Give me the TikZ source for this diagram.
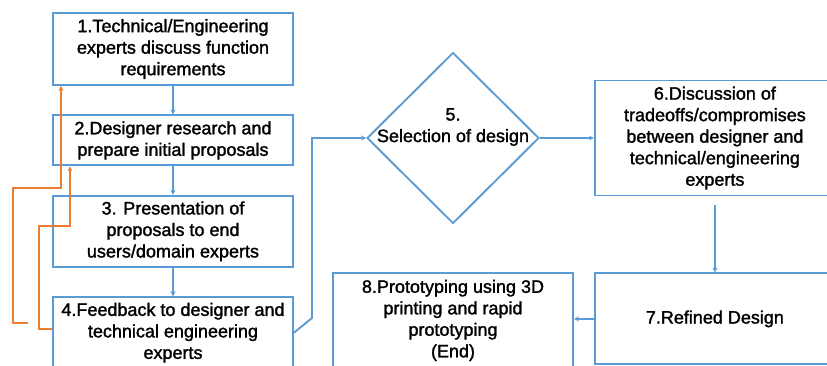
\documentclass[tikz,border=0pt]{standalone}
\usepackage{fontspec}
\setmainfont{Liberation Sans}[FakeBold=1.6]
\usetikzlibrary{positioning,shapes.geometric,arrows.meta}
\definecolor{stepblue}{RGB}{91,155,213}
\definecolor{loopred}{RGB}{237,125,49}

\begin{document}
\begin{tikzpicture}[x=1pt, y=-1pt, node distance=28.5pt,
  font=\fontsize{18}{21.5}\selectfont,
  box/.style={draw=stepblue, line width=1.9pt, minimum width=240pt, align=center, inner sep=0pt},
  decision/.style={diamond, draw=stepblue, line width=1.9pt, minimum width=172pt, minimum height=171pt, inner sep=0pt},
  flow/.style={draw=stepblue, line width=1.9pt, -{Stealth[length=5pt,width=5pt]}},
  back/.style={draw=loopred, line width=1.9pt, -{Stealth[length=5pt,width=5pt]}}]
  \useasboundingbox (0,0) rectangle (827,365);
  % left column
  \node[box, minimum height=72pt] (s1) at (173,49) {1.Technical/Engineering\\experts discuss function\\requirements};
  \node[box, minimum height=50pt] (s2) [below=of s1] {2.Designer research and\\prepare initial proposals};
  \node[box, minimum height=71pt] (s3) [below=of s2] {3. Presentation of\\proposals to end\\users/domain experts};
  \node[box, minimum height=71pt] (s4) [below=of s3] {4.Feedback to designer and\\technical engineering\\experts};
  % decision
  \node[decision] (s5) at (453,138) {};
  \node[align=center] (s5txt) at ([yshift=11pt]s5.center) {5.\\Selection of design};
  % right part
  \node[box, minimum height=115pt] (s6) [right=54pt of s5] {6.Discussion of\\tradeoffs/compromises\\between designer and\\technical/engineering\\experts};
  \node[box, minimum height=91pt] (s7) [below=76pt of s6] {7.Refined Design};
  \node[box, minimum height=94pt, anchor=north east] (s8) at ([xshift=-20pt]s7.north west) {8.Prototyping using 3D\\printing and rapid\\prototyping\\(End)};
  \coordinate (fbA) at (28,323);

  \path[flow] (s1) edge (s2) (s2) edge (s3) (s3) edge (s4);
  \draw[flow] (s4.east) -- (312,318) |- (s5.west);
  \draw[flow] (s5.east) -- (s6.west |- s5.east);
  \draw[flow] ([yshift=-9pt]s6.south) -- (s7.north);
  \draw[flow] (s7.west) -- (s8.east |- s7.west);
  % feedback loops
  \draw[back] (fbA) -| (13,188) -| ([xshift=-112pt]s1.south);
  \draw[back] ([yshift=4pt]s4.west) -| (39,226) -| ([xshift=-103pt]s2.south);
\end{tikzpicture}
\end{document}
